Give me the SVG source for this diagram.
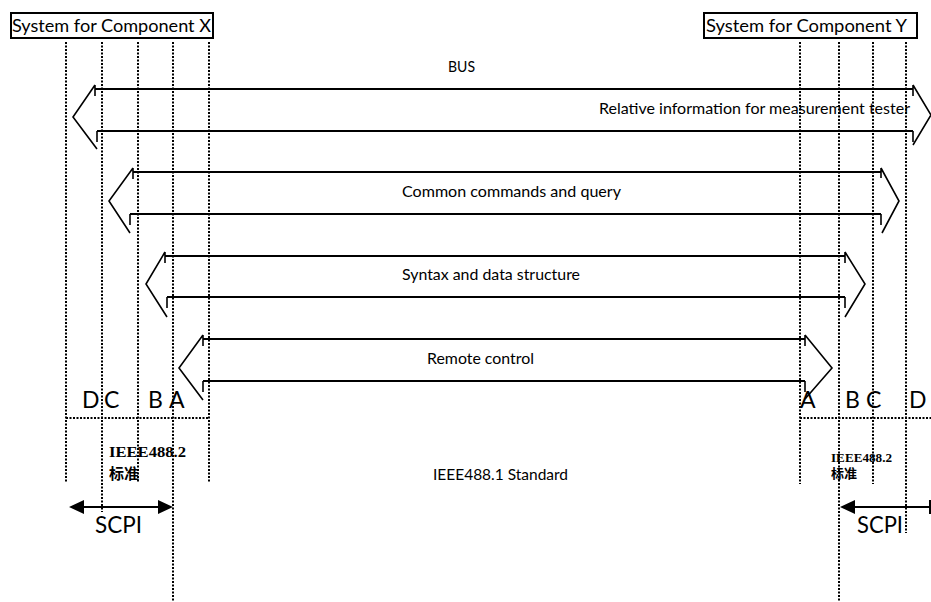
<svg xmlns="http://www.w3.org/2000/svg" width="931" height="602" viewBox="0 0 931 602">
<style>
.dot{stroke:#000;stroke-width:2;stroke-dasharray:2 1.5;fill:none}
.shaft{stroke:#000;stroke-width:2;fill:none}
.head{stroke:#000;stroke-width:1.6;fill:none}
.lbl{font-family:Lato,"Liberation Sans",Arial,sans-serif;font-size:15px;fill:#000}
.big{font-family:Lato,"Liberation Sans",Arial,sans-serif;font-size:23px;fill:#000}
.ttl{font-family:Lato,"Liberation Sans",Arial,sans-serif;font-size:18px;fill:#000}
.std{font-family:"Liberation Serif","Noto Sans CJK SC",serif;font-weight:bold;fill:#000}
.box{fill:#fff;stroke:#000;stroke-width:2}
</style>
<rect width="931" height="602" fill="#fff"/>
<g id="guides">
<line class="dot" x1="66" y1="42" x2="66" y2="482"/>
<line class="dot" x1="102" y1="42" x2="102" y2="512"/>
<line class="dot" x1="138" y1="42" x2="138" y2="483"/>
<line class="dot" x1="173" y1="42" x2="173" y2="602"/>
<line class="dot" x1="209" y1="42" x2="209" y2="483"/>
<line class="dot" x1="800" y1="42" x2="800" y2="484"/>
<line class="dot" x1="839" y1="42" x2="839" y2="602"/>
<line class="dot" x1="873" y1="42" x2="873" y2="484"/>
<line class="dot" x1="906" y1="42" x2="906" y2="533"/>
<line class="dot" x1="66" y1="418" x2="209" y2="418"/>
<line class="dot" x1="800" y1="418" x2="931" y2="418"/>
</g>
<g id="systemX">
<rect class="box" x="11" y="13" width="202" height="25"/>
<text class="ttl" x="12" y="32" textLength="199" lengthAdjust="spacingAndGlyphs">System for Component X</text>
</g>
<g id="systemY">
<rect class="box" x="704" y="13" width="213" height="25"/>
<text class="ttl" x="706" y="32" textLength="201" lengthAdjust="spacingAndGlyphs">System for Component Y</text>
</g>
<g id="connectors">
<g id="bus">
<path class="head" d="M95,85 L73,117 L97,149 M95,85 V96 M97,131 V142"/>
<path class="shaft" d="M95,89 H913 M97,131 H913"/>
<path class="head" d="M913,85 L931,115 L913,145 M913,85 V96 M913,131 V142"/>
</g>
<g id="common">
<path class="head" d="M133,168 L109,201 L130,233 M133,168 V179 M130,214 V225"/>
<path class="shaft" d="M133,172 H881 M130,214 H881"/>
<path class="head" d="M881,168 L899,201 L882,233 M881,168 V178 M881,214 V225"/>
</g>
<g id="syntax">
<path class="head" d="M165,252 L146,284 L167,317 M165,252 V263 M167,297 V308"/>
<path class="shaft" d="M165,256 H845 M167,297 H845"/>
<path class="head" d="M845,252 L865,284 L845,317 M845,252 V263 M845,297 V308"/>
</g>
<g id="remote">
<path class="head" d="M203,335 L179,368 L203,400 M203,335 V346 M203,381 V392"/>
<path class="shaft" d="M203,339 H805 M203,381 H805"/>
<path class="head" d="M805,335 L832,368 L805,399 M805,335 V346 M805,381 V392"/>
</g>
<g id="scpiLeft">
<line class="shaft" x1="82" y1="507" x2="160" y2="507"/>
<path d="M69,507 L84,500 L84,514 Z M173,507 L158,500 L158,514 Z" fill="#000"/>
</g>
<g id="scpiRight">
<line class="shaft" x1="853" y1="507" x2="930" y2="507"/>
<path d="M840,507 L855,500 L855,514 Z" fill="#000"/>
<line class="shaft" x1="930" y1="500" x2="930" y2="514"/>
</g>
</g>
<g id="labels">
<text class="lbl" x="448" y="72" textLength="27" lengthAdjust="spacingAndGlyphs">BUS</text>
<text class="lbl" x="599" y="114" textLength="311" lengthAdjust="spacingAndGlyphs">Relative information for measurement tester</text>
<text class="lbl" x="402" y="197" textLength="219" lengthAdjust="spacingAndGlyphs">Common commands and query</text>
<text class="lbl" x="402" y="280" textLength="178" lengthAdjust="spacingAndGlyphs">Syntax and data structure</text>
<text class="lbl" x="427" y="364" textLength="107" lengthAdjust="spacingAndGlyphs">Remote control</text>
<text class="lbl" x="433" y="480" textLength="135" lengthAdjust="spacingAndGlyphs">IEEE488.1 Standard</text>
</g>
<g id="layersLeft">
<text class="big" x="82" y="408">D</text>
<text class="big" x="104" y="408">C</text>
<text class="big" x="148" y="408">B</text>
<text class="big" x="169" y="408">A</text>
<text class="std" x="109" y="457" font-size="15" textLength="77" lengthAdjust="spacingAndGlyphs">IEEE488.2</text>
<text class="std" x="109" y="479" font-size="15">标准</text>
<text class="big" x="95" y="533" font-size="22" textLength="47" lengthAdjust="spacingAndGlyphs">SCPI</text>
</g>
<g id="layersRight">
<text class="big" x="800" y="408">A</text>
<text class="big" x="845" y="408">B</text>
<text class="big" x="866" y="408">C</text>
<text class="big" x="909" y="408">D</text>
<text class="std" x="831" y="462" font-size="13" textLength="61" lengthAdjust="spacingAndGlyphs">IEEE488.2</text>
<text class="std" x="831" y="478" font-size="13">标准</text>
<text class="big" x="857" y="533" font-size="22" textLength="46" lengthAdjust="spacingAndGlyphs">SCPI</text>
</g>
</svg>
